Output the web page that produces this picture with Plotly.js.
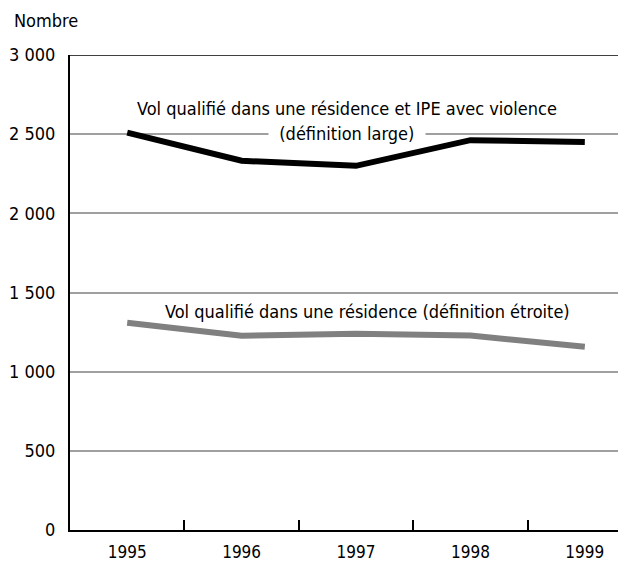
<!DOCTYPE html>
<html>
<head>
<meta charset="utf-8">
<script src="https://cdn.plot.ly/plotly-3.0.1.min.js"></script>
<style>
  html, body { margin: 0; padding: 0; background: #fff; }
  #chart { width: 629px; height: 564px; }
</style>
</head>
<body>
<div id="chart"></div>
<script>
// --- Data ---
const years = [1995, 1996, 1997, 1998, 1999];
const yearLabels = ["1995", "1996", "1997", "1998", "1999"];
const volLarge = [2510, 2332, 2300, 2462, 2450];   // résidence + IPE avec violence
const volEtroit = [1309, 1227, 1240, 1228, 1158];  // résidence seulement
const yTickVals = [0, 500, 1000, 1500, 2000, 2500, 3000];
const yTickText = ["0", "500", "1 000", "1 500", "2 000", "2 500", "3 000"];
const boundaryTicks = [1995.5, 1996.5, 1997.5, 1998.5];

const font = "'DejaVu Sans Condensed', 'Liberation Sans', sans-serif";
const pad = "\u00a0\u00a0";

// --- Traces ---
const traces = [
  {
    x: years, y: volEtroit, type: "scatter", mode: "lines",
    line: { color: "#808080", width: 6 }, hoverinfo: "skip",
  },
  {
    x: years, y: volLarge, type: "scatter", mode: "lines",
    line: { color: "#000000", width: 6 }, hoverinfo: "skip",
  },
];

// --- Layout ---
const layout = {
  width: 629,
  height: 564,
  margin: { l: 70, r: 11, t: 55, b: 34 },
  paper_bgcolor: "#ffffff",
  plot_bgcolor: "#ffffff",
  showlegend: false,
  font: { family: font, size: 18, color: "#000" },
  xaxis: {
    range: [1994.5, 1999.29],
    tickmode: "array",
    tickvals: years,
    ticktext: yearLabels,
    ticks: "",
    ticklabelstandoff: 6,
    tickfont: { size: 17 },
    showgrid: false,
    zeroline: false,
    showline: true,
    linecolor: "#000",
    linewidth: 2,
    minor: {
      tickmode: "array",
      tickvals: boundaryTicks,
      ticks: "inside",
      ticklen: 10,
      tickwidth: 2,
      tickcolor: "#000",
      showgrid: false,
    },
  },
  yaxis: {
    range: [0, 3000],
    tickmode: "array",
    tickvals: yTickVals,
    ticktext: yTickText,
    ticks: "",
    ticklabelstandoff: 9,
    showgrid: true,
    gridcolor: "#a0a0a0",
    gridwidth: 2,
    zeroline: false,
    showline: true,
    linecolor: "#000",
    linewidth: 2,
  },
  shapes: [
    {
      type: "line", xref: "paper", yref: "y", x0: 0, x1: 1, y0: 3000, y1: 3000,
      line: { color: "#000", width: 1.5 },
    },
  ],
  annotations: [
    {
      text: "Nombre", xref: "paper", yref: "paper", x: 0, y: 1,
      xanchor: "left", yanchor: "bottom", xshift: -58, yshift: 22,
      showarrow: false,
    },
    {
      text: "Vol qualifié dans une résidence et IPE avec violence",
      xref: "x", yref: "y", x: 1996.92, y: 2665,
      showarrow: false,
    },
    {
      text: pad + "(définition large)" + pad,
      xref: "x", yref: "y", x: 1996.92, y: 2505,
      showarrow: false,
      bgcolor: "#ffffff", borderpad: 0,
    },
    {
      text: "Vol qualifié dans une résidence (définition étroite)",
      xref: "x", yref: "y", x: 1997.1, y: 1377,
      showarrow: false,
    },
  ],
};

Plotly.newPlot("chart", traces, layout, { staticPlot: true, displayModeBar: false });
</script>
</body>
</html>
